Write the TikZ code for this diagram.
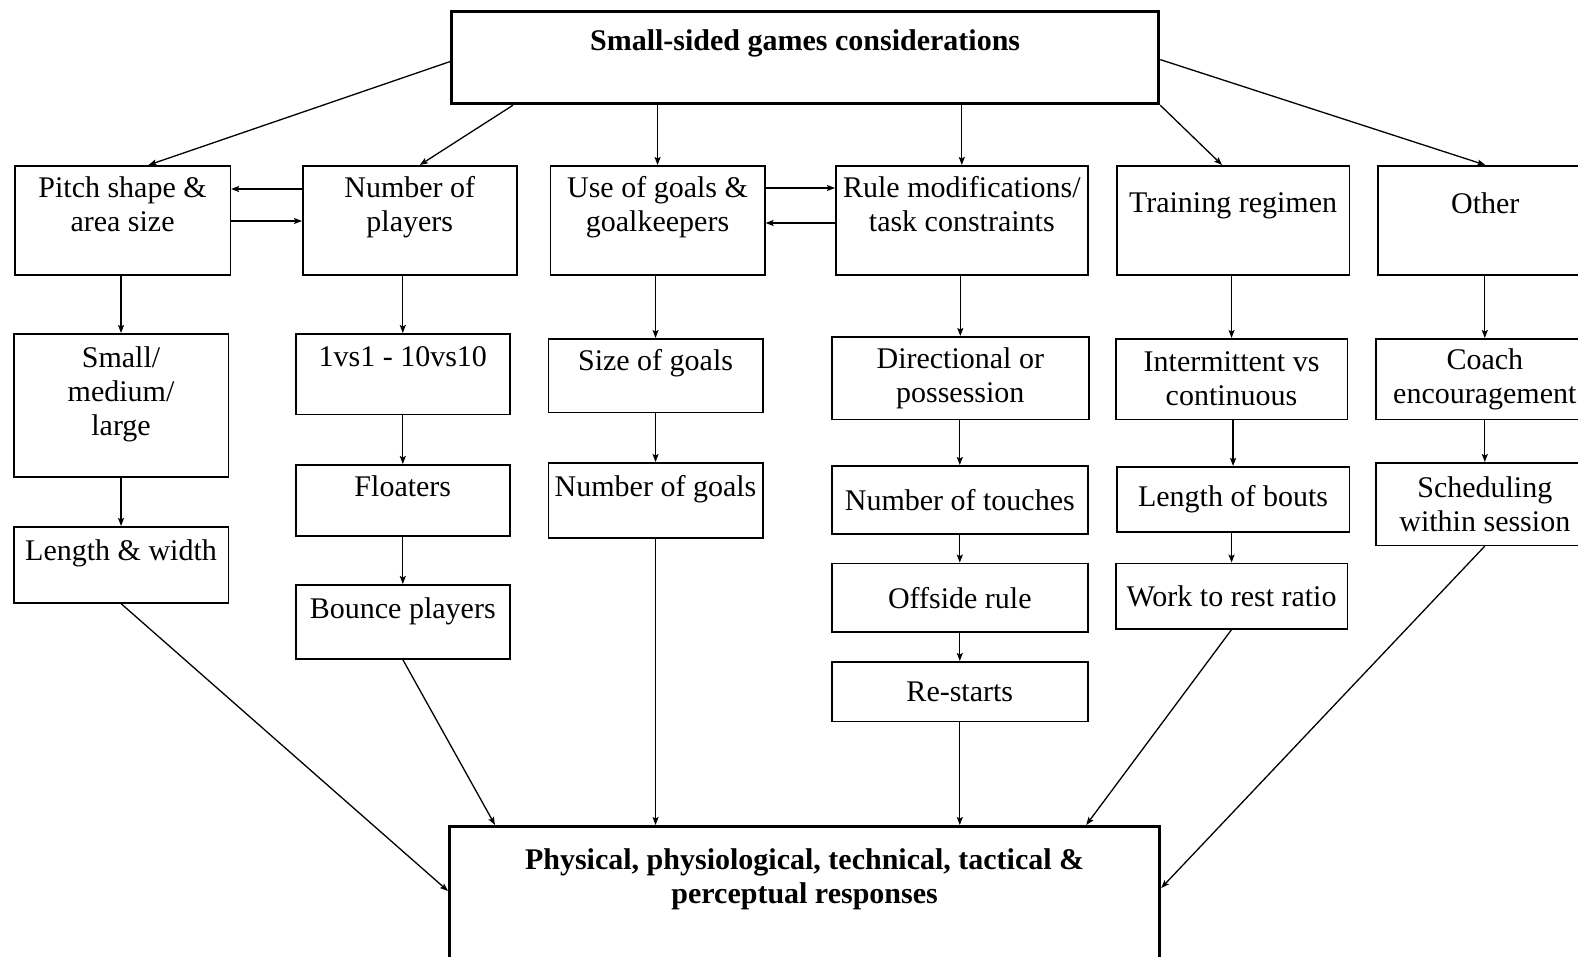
\documentclass[tikz,border=0pt]{standalone}
\usepackage{fontspec}
\setmainfont{Liberation Serif}
\usetikzlibrary{arrows.meta}
\tikzset{
    %Define standard arrow tip
    >={Stealth[length=8pt, width=6pt, inset=1.5pt]},
    %Define style for a box, #1 = width, #2 = height
    box/.style 2 args={rectangle, draw=black, line width=1.6pt, inner sep=0pt, anchor=north west, align=center, minimum width=#1pt, minimum height=#2pt},
    %Define style for the two main boxes
    mainbox/.style 2 args={box={#1}{#2}, line width=3.2pt},
    %Define style for text at the top of a box
    toptext/.style={anchor=north, inner sep=11pt, align=center},
    toptitle/.style={toptext, inner sep=19pt, font=\fontsize{30}{34}\selectfont\bfseries},
    link/.style={line width=1.3pt},
}

\begin{document}
\begin{tikzpicture}[x=1pt, y=-1pt, font=\fontsize{30}{34}\selectfont]
    \path[use as bounding box, fill=white] (0,0) rectangle (1578,956);

    	\node[mainbox={707}{92}, label={[toptitle]north:Small-sided games considerations}](considerations) at (450,10) {};

    	\node[box={215.5}{109}, label={[toptext]north:Pitch shape \&\\area size}](pitch) at (14,165) {};
    	\node[box={214}{109}, label={[toptext]north:Number of\\players}](players) at (302,165) {};
    	\node[box={214.5}{109}, label={[toptext]north:Use of goals \&\\goalkeepers}](goals) at (549.5,165) {};
    	\node[box={252}{109}, label={[toptext]north:Rule modifications/\\task constraints}](rules) at (835,165) {};
    	\node[box={232.5}{109}, label={[toptext, inner sep=27pt]north:Training regimen}](regimen) at (1116,165) {};
    	\node[box={215}{109}, label={[toptext, inner sep=27pt]north:Other}](other) at (1377,165) {};

    	\node[box={214.5}{143}, label={[toptext, inner sep=13pt]north:Small/\\medium/\\large}](sizes) at (13,333) {};
    	\node[box={214}{80.6}, label={[toptext, inner sep=13pt]north:1vs1 - 10vs10}](versus) at (295,333) {};
    	\node[box={214.5}{73.6}, label={[toptext]north:Size of goals}](goalsize) at (547.5,338) {};
    	\node[box={257}{82.7}](direction) at (831,336) {Directional or\\possession};
    	\node[box={231.5}{80.7}](intermittent) at (1115,338) {Intermittent vs\\continuous};
    	\node[box={218}{80.7}](coach) at (1375,338) {Coach\\encouragement};

    	\node[box={214.5}{76}, label={[toptext, inner sep=13pt]north:Length \& width}](lengthwidth) at (13,526) {};
    	\node[box={214}{71}, label={[toptext]north:Floaters}](floaters) at (295,464) {};
    	\node[box={214.5}{75}, label={[toptext, inner sep=13pt]north:Number of goals}](goalnumber) at (547.5,462) {};
    	\node[box={256}{68}](touches) at (831,465) {Number of touches};
    	\node[box={232.5}{65}](bouts) at (1116,466) {Length of bouts};
    	\node[box={218}{82.5}](scheduling) at (1375,462) {Scheduling\\within session};

    	\node[box={214}{74}, label={[toptext, inner sep=13pt]north:Bounce players}](bounce) at (295,584) {};
    	\node[box={256}{68.4}](offside) at (831,562.6) {Offside rule};
    	\node[box={231.5}{65.4}](workrest) at (1115,562.6) {Work to rest ratio};
    	\node[box={256}{59.6}](restarts) at (831,661) {Re-starts};

    	\node[mainbox={710}{170}, label={[toptitle, inner sep=23pt]north:{Physical, physiological, technical, tactical \&\\perceptual responses}}](responses) at (448,825) {};

        % from the top box
        \path([yshift=-4pt]considerations.west) edge [->, link] ([xshift=26pt]pitch.north);
        \path([xshift=63pt]considerations.south west) edge [->, link] ([xshift=10pt]players.north);
        \path(considerations.south -| goals.north) edge [->, link] (goals.north);
        \path(considerations.south -| rules.north) edge [->, link] (rules.north);
        \path(considerations.south east) edge [->, link] ([xshift=-11pt]regimen.north);
        \path([yshift=-2pt]considerations.east) edge [->, link] (other.north);

        % between neighbours
        \path([yshift=-24pt]players.north west) edge [->, link] ([yshift=-24pt]pitch.north east);
        \path([yshift=-56pt]pitch.north east) edge [->, link] ([yshift=-56pt]players.north west);
        \path([yshift=-23pt]goals.north east) edge [->, link] ([yshift=-23pt]rules.north west);
        \path([yshift=-58pt]rules.north west) edge [->, link] ([yshift=-58pt]goals.north east);

        % down each column
        \foreach \a/\b in {pitch/sizes, sizes/lengthwidth, players/versus, versus/floaters, floaters/bounce, goals/goalsize, goalsize/goalnumber, rules/direction, direction/touches, touches/offside, offside/restarts, regimen/intermittent, intermittent/bouts, bouts/workrest, other/coach, coach/scheduling}
            \path(\a.south -| \b) edge [->, link] (\b.north);

        % to the responses
        \path(lengthwidth.south) edge [->, link] ([yshift=-66pt]responses.north west);
        \path(bounce.south) edge [->, link] ([xshift=47pt]responses.north west);
        \path(goalnumber.south) edge [->, link] (goalnumber.south |- responses.north);
        \path(restarts.south) edge [->, link] (restarts.south |- responses.north);
        \path(workrest.south) edge [->, link] ([xshift=-75pt]responses.north east);
        \path(scheduling.south) edge [->, link] ([yshift=-63pt]responses.north east);
    \end{tikzpicture}
\end{document}
